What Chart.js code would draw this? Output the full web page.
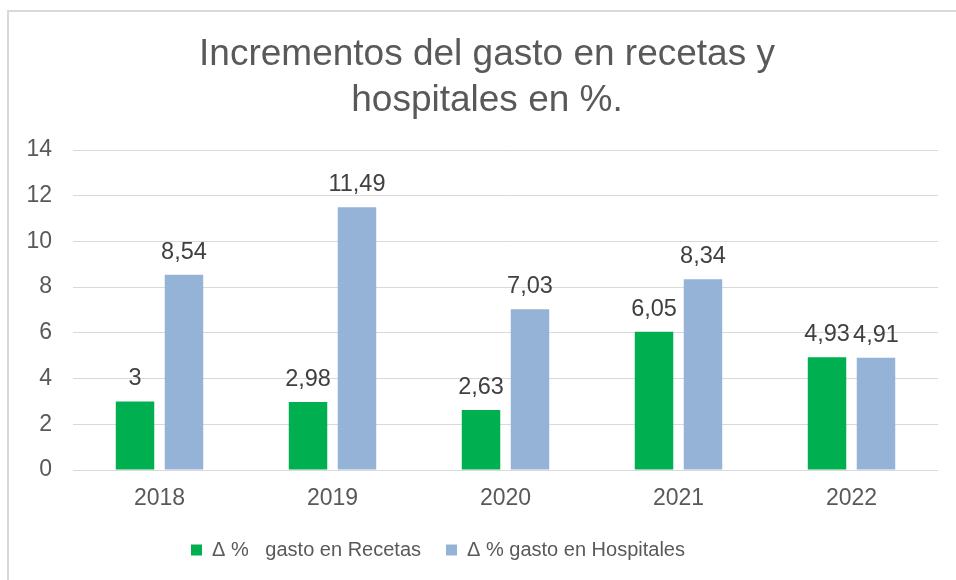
<!DOCTYPE html>
<html><head><meta charset="utf-8">
<script src="https://cdn.jsdelivr.net/npm/chart.js@4"></script>
<style>
html,body{margin:0;padding:0;background:#fff;}
#wrap{position:relative;width:956px;height:580px;overflow:hidden;background:#fff;}
#frame{position:absolute;left:7px;top:10px;width:1200px;height:1200px;border:2px solid #d9d9d9;pointer-events:none;box-sizing:border-box;}
canvas{position:absolute;left:0;top:0;}
</style></head><body>
<div id="wrap"><canvas id="c" width="956" height="580"></canvas><div id="frame"></div></div>
<script>
const years = ['2018', '2019', '2020', '2021', '2022'];
const recetas = [3, 2.98, 2.63, 6.05, 4.93];
const hospitales = [8.54, 11.49, 7.03, 8.34, 4.91];
const labelRecetas = 'Δ %   gasto en Recetas';
const labelHospitales = 'Δ % gasto en Hospitales';
const titleLines = ['Incrementos del gasto en recetas y', 'hospitales en %.'];
const yTicks = [0, 2, 4, 6, 8, 10, 12, 14];

const FAM = '"Liberation Sans", Arial, Helvetica, sans-serif';

const valueLabels = {
  id: 'valueLabels',
  afterDatasetsDraw(chart) {
    const ctx = chart.ctx;
    ctx.save();
    ctx.font = '23.5px ' + FAM;
    ctx.fillStyle = '#404040';
    ctx.textAlign = 'center';
    ctx.textBaseline = 'alphabetic';
    chart.data.datasets.forEach((ds, i) => {
      chart.getDatasetMeta(i).data.forEach((bar, j) => {
        ctx.fillText(String(ds.data[j]).replace('.', ','), bar.x, bar.y - 16);
      });
    });
    ctx.restore();
  }
};

const placeBoxes = {
  id: 'placeBoxes',
  afterLayout(chart) {
    const ys = chart.scales.y;
    if (ys) { ys.left = 0; }
    const lg = chart.legend;
    if (lg) {
      const pad = lg.options.labels.padding;
      const ih = (lg.legendHitBoxes && lg.legendHitBoxes.length) ? lg.legendHitBoxes[0].height : 24;
      const w = lg.right - lg.left;
      const h = lg.bottom - lg.top;
      lg.left = 191 - pad; lg.right = lg.left + w;
      lg.top = 550 - pad - ih / 2; lg.bottom = lg.top + h;
    }
  }
};

new Chart(document.getElementById('c'), {
  type: 'bar',
  data: {
    labels: years,
    datasets: [
      { label: labelRecetas, data: recetas, backgroundColor: '#00B050', borderWidth: 0,
        barPercentage: 0.786, categoryPercentage: 0.566 },
      { label: labelHospitales, data: hospitales, backgroundColor: '#95B3D7', borderWidth: 0,
        barPercentage: 0.786, categoryPercentage: 0.566 }
    ]
  },
  plugins: [valueLabels, placeBoxes],
  options: {
    responsive: false,
    animation: false,
    devicePixelRatio: 1,
    layout: { padding: { left: 36, right: 18, top: 0, bottom: 0 } },
    plugins: {
      tooltip: { enabled: false },
      title: {
        display: true,
        text: titleLines,
        color: '#595959',
        font: { size: 37, family: FAM, weight: 'normal', lineHeight: 46 / 37 },
        padding: { top: 32, bottom: 26 }
      },
      legend: {
        position: 'bottom',
        align: 'start',
        labels: {
          boxWidth: 11, boxHeight: 11, padding: 25,
          color: '#595959',
          font: { size: 20, family: FAM }
        }
      }
    },
    scales: {
      x: {
        grid: { display: false, drawTicks: false },
        border: { display: false },
        ticks: { color: '#595959', font: { size: 23, family: FAM }, padding: 15, maxRotation: 0 },
        afterFit(s) { s.height = 580 - 470 - s.chart.legend.height; }
      },
      y: {
        min: 0, max: 14,
        afterBuildTicks(s) { s.ticks = yTicks.map(v => ({ value: v })); },
        ticks: { color: '#595959', font: { size: 23, family: FAM }, padding: 21 },
        grid: { color: '#D9D9D9', lineWidth: 1, drawTicks: false },
        border: { display: false },
        afterFit(s) { s.width = 37; }
      }
    }
  }
});
</script>
</body></html>
